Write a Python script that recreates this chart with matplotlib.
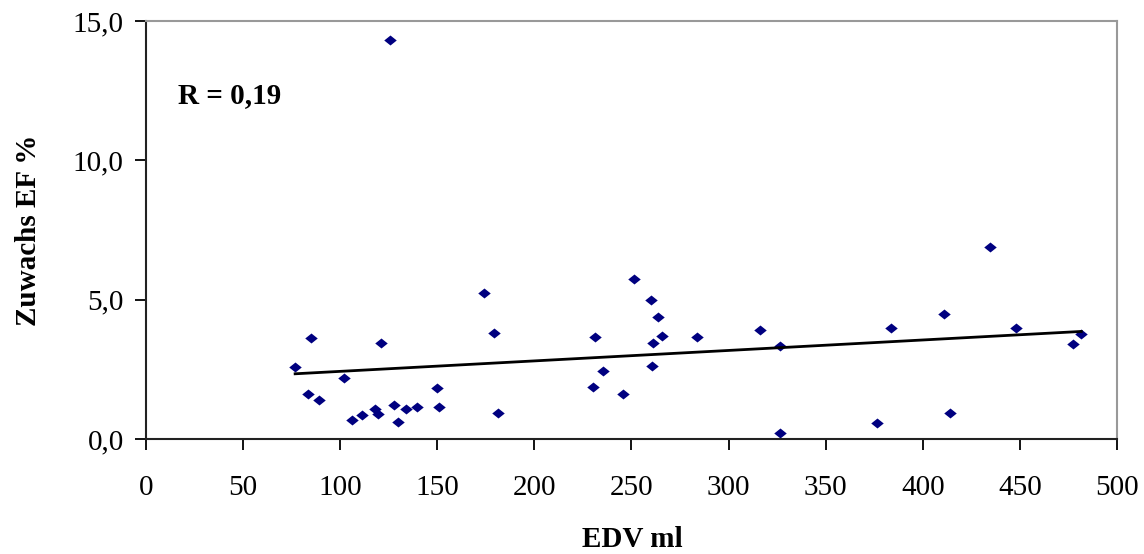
import numpy as np
import matplotlib.pyplot as plt
from matplotlib.ticker import FuncFormatter

# EDV (ml) vs. gain in ejection fraction (%)
edv = [76.8, 84.9, 83.2, 89.3, 101.9, 106.2, 111.2, 117.7, 119.4, 121.1,
       125.8, 127.8, 129.9, 133.9, 139.3, 149.6, 150.9, 174.2, 179.4, 181.4,
       230.2, 231.3, 235.4, 245.4, 251.2, 260.3, 263.6, 265.6, 261.0, 260.7,
       283.5, 316.3, 326.4, 326.4, 376.6, 383.8, 410.7, 414.1, 434.5, 448.1,
       477.3, 481.6]
ef_gain = [2.59, 3.61, 1.61, 1.40, 2.20, 0.69, 0.87, 1.08, 0.89, 3.43,
           14.32, 1.22, 0.62, 1.09, 1.16, 1.82, 1.16, 5.25, 3.79, 0.93,
           1.87, 3.66, 2.44, 1.61, 5.74, 5.00, 4.39, 3.71, 3.43, 2.63,
           3.66, 3.91, 3.34, 0.22, 0.56, 3.99, 4.47, 0.94, 6.88, 3.98,
           3.40, 3.78]

# linear trend line, endpoints
trend_x = [76.8, 481.6]
trend_y = [2.34, 3.86]

plt.rcParams['font.family'] = ['Liberation Serif', 'DejaVu Serif']

fig = plt.figure(figsize=(11.44, 5.54), dpi=100)
ax = fig.add_axes([0.1276, 0.2076, 0.8488, 0.7544])

# slightly wide diamond marker
diamond = [(-1, 0), (0, 0.8), (1, 0), (0, -0.8), (-1, 0)]
ax.plot(edv, ef_gain, linestyle='none', marker=diamond, markersize=9,
        color='#000080', markeredgewidth=0)
ax.plot(trend_x, trend_y, color='black', linewidth=2)

ax.set_xlim(0, 500)
ax.set_ylim(0, 15)
ax.set_xticks(np.arange(0, 501, 50))
ax.set_yticks([0, 5, 10, 15])
ax.yaxis.set_major_formatter(FuncFormatter(lambda v, p: f'{v:.1f}'.replace('.', ',')))
ax.tick_params(direction='out', length=8, width=1.3, labelsize=21, pad=8)
ax.tick_params(axis='x', pad=18)

for side in ['left', 'bottom']:
    ax.spines[side].set_color('#222222')
    ax.spines[side].set_linewidth(1.5)
for side in ['top', 'right']:
    ax.spines[side].set_color('#999999')
    ax.spines[side].set_linewidth(1.5)

fig.text(0.553, 0.026, 'EDV ml', fontsize=21, fontweight='bold',
         ha='center', va='center')
ax.set_ylabel('Zuwachs EF %', fontsize=21, fontweight='bold', labelpad=22)
ax.text(0.033, 0.822, 'R = 0,19', transform=ax.transAxes, fontsize=21,
        fontweight='bold', va='center', ha='left')

fig.savefig('out.png', dpi=100)
